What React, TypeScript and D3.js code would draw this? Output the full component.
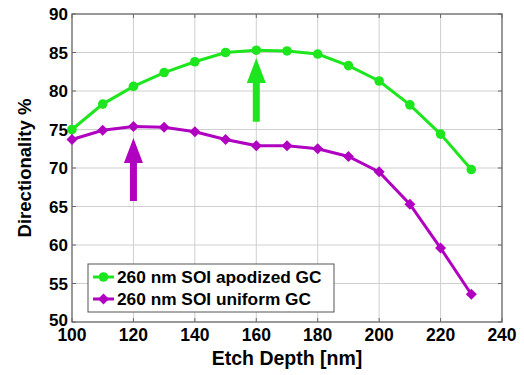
import React from "react";
import * as d3 from "d3";

const etchDepth = [100, 110, 120, 130, 140, 150, 160, 170, 180, 190, 200, 210, 220, 230];
const apodized = [75.0, 78.3, 80.6, 82.4, 83.8, 85.0, 85.3, 85.2, 84.8, 83.3, 81.3, 78.2, 74.4, 69.8];
const uniform = [73.7, 74.9, 75.4, 75.3, 74.7, 73.7, 72.9, 72.9, 72.5, 71.5, 69.5, 65.3, 59.6, 53.6];
const xTicks = [100, 120, 140, 160, 180, 200, 220, 240];
const yTicks = [50, 55, 60, 65, 70, 75, 80, 85, 90];
const seriesNames = ["260 nm SOI apodized GC", "260 nm SOI uniform GC"];
// arrows: [x, yTip, yTail]
const arrowApod = [160, 84.3, 76.0];
const arrowUnif = [120, 73.9, 65.7];

const W = 524, H = 375;
const M = { left: 72, top: 14, right: 502, bottom: 322 };
const GREEN = "#1ee61e";
const MAGENTA = "#b000c0";
const FONT = "'Liberation Sans', Arial, sans-serif";

export default function App() {
  const x = d3.scaleLinear().domain([100, 240]).range([M.left, M.right]);
  const y = d3.scaleLinear().domain([50, 90]).range([M.bottom, M.top]);
  const line = d3.line<number>().x((_, i) => x(etchDepth[i])).y((d) => y(d));

  const arrow = (a: number[], color: string) => {
    const cx = x(a[0]);
    const tip = y(a[1]);
    const tail = y(a[2]);
    const headLen = 25;
    const headHalf = 9.5;
    const shaftHalf = 3.5;
    const base = tip + headLen;
    const pts = [
      [cx, tip], [cx + headHalf, base], [cx + shaftHalf, base], [cx + shaftHalf, tail],
      [cx - shaftHalf, tail], [cx - shaftHalf, base], [cx - headHalf, base],
    ];
    return <polygon points={pts.map((p) => p.join(",")).join(" ")} fill={color} />;
  };

  const diamond = (cx: number, cy: number, r: number, color: string, key?: any) => (
    <polygon key={key} points={`${cx},${cy - r} ${cx + r},${cy} ${cx},${cy + r} ${cx - r},${cy}`} fill={color} />
  );

  return (
    <svg width={W} height={H} style={{ position: "absolute", left: 0, top: 0, background: "#fff" }} fontFamily={FONT}>
      {/* grid */}
      {xTicks.map((t) => (
        <line key={"gx" + t} x1={x(t)} x2={x(t)} y1={M.top} y2={M.bottom} stroke="#cfcfcf" strokeWidth={1} />
      ))}
      {yTicks.map((t) => (
        <line key={"gy" + t} x1={M.left} x2={M.right} y1={y(t)} y2={y(t)} stroke="#cfcfcf" strokeWidth={1} />
      ))}
      {/* inner ticks */}
      {xTicks.map((t) => (
        <g key={"tx" + t} stroke="#666" strokeWidth={1}>
          <line x1={x(t)} x2={x(t)} y1={M.bottom} y2={M.bottom - 4} />
          <line x1={x(t)} x2={x(t)} y1={M.top} y2={M.top + 4} />
        </g>
      ))}
      {yTicks.map((t) => (
        <g key={"ty" + t} stroke="#666" strokeWidth={1}>
          <line x1={M.left} x2={M.left + 4} y1={y(t)} y2={y(t)} />
          <line x1={M.right} x2={M.right - 4} y1={y(t)} y2={y(t)} />
        </g>
      ))}
      <rect x={M.left} y={M.top} width={M.right - M.left} height={M.bottom - M.top} fill="none" stroke="#666" strokeWidth={1.2} />

      {/* series */}
      <path d={line(apodized) || ""} fill="none" stroke={GREEN} strokeWidth={3} />
      {apodized.map((v, i) => (
        <circle key={"a" + i} cx={x(etchDepth[i])} cy={y(v)} r={4.8} fill={GREEN} />
      ))}
      <path d={line(uniform) || ""} fill="none" stroke={MAGENTA} strokeWidth={3} />
      {uniform.map((v, i) => diamond(x(etchDepth[i]), y(v), 5.5, MAGENTA, "u" + i))}

      {/* arrows */}
      {arrow(arrowApod, GREEN)}
      {arrow(arrowUnif, MAGENTA)}

      {/* tick labels */}
      {xTicks.map((t) => (
        <text key={"lx" + t} x={x(t)} y={M.bottom + 19} textAnchor="middle" fontSize={17.5} fontWeight="bold">{t}</text>
      ))}
      {yTicks.map((t) => (
        <text key={"ly" + t} x={M.left - 4} y={y(t) + (t === 50 ? 4 : 6)} textAnchor="end" fontSize={17} fontWeight="bold">{t}</text>
      ))}
      <text x={(M.left + M.right) / 2} y={365} textAnchor="middle" fontSize={19.5} fontWeight="bold">Etch Depth [nm]</text>
      <text transform={`translate(31,${(M.top + M.bottom) / 2}) rotate(-90)`} textAnchor="middle" fontSize={18.5} fontWeight="bold">Directionality %</text>

      {/* legend */}
      <rect x={88} y={264} width={246} height={48} fill="#fff" stroke="#555" strokeWidth={1} />
      <line x1={93} x2={114} y1={277} y2={277} stroke={GREEN} strokeWidth={3} />
      <circle cx={103.5} cy={277} r={4.8} fill={GREEN} />
      <text x={117} y={283} fontSize={17.3} fontWeight="bold">{seriesNames[0]}</text>
      <line x1={93} x2={114} y1={299} y2={299} stroke={MAGENTA} strokeWidth={3} />
      {diamond(103.5, 299, 5.5, MAGENTA, "leg")}
      <text x={117} y={305} fontSize={17.3} fontWeight="bold">{seriesNames[1]}</text>
    </svg>
  );
}
